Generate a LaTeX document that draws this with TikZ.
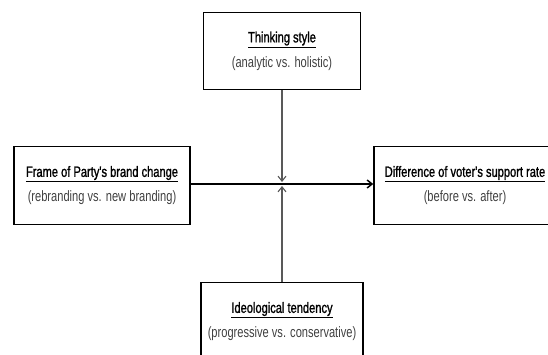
\documentclass[tikz,border=0pt]{standalone}
\usepackage{fontspec}
\setmainfont{Liberation Sans}[FakeStretch=0.74]
\newfontfamily\titlefont{Liberation Sans}[FakeStretch=0.74, FakeBold=1.2]
\usepackage{tikz}
\usetikzlibrary{arrows.meta, positioning}
\definecolor{subgray}{gray}{0.25}
\definecolor{linegray}{gray}{0.35}
\newcommand{\vartitle}[1]{{\titlefont\underline{#1}}}

\begin{document}
\begin{tikzpicture}[x=1pt, y=1pt,
    varbox/.style={draw, rectangle, line width=1.4pt, align=center, inner sep=0pt,
      font=\fontsize{15}{25}\selectfont},
    mainlink/.style={line width=1.5pt, -{Straight Barb[length=5pt, width=8pt]}},
    modlink/.style={line width=1.1pt, draw=linegray, -{Straight Barb[length=5pt, width=8pt]}}]
  \useasboundingbox (0,0) rectangle (548,354);
  \node[varbox, minimum width=157, minimum height=77]
    (T) at (282,303) {\vartitle{Thinking style}\\{\color{subgray}(analytic vs. holistic)}};
  \node[varbox, minimum width=176, minimum height=78]
    (L) at (102,168.5) {\vartitle{Frame of Party's brand change}\\{\color{subgray}(rebranding vs. new branding)}};
  \node[varbox, minimum width=182, minimum height=78]
    (R) at (465,168.5) {\vartitle{Difference of voter's support rate}\\{\color{subgray}(before vs. after)}};
  \node[varbox, minimum width=162, minimum height=78]
    (B) at (282,32.5) {\vartitle{Ideological tendency}\\{\color{subgray}(progressive vs. conservative)}};
  \coordinate (X) at (282,170);
  \draw[mainlink] (L.east |- X) -- (R.west |- X);
  \draw[modlink] (T) -- ([yshift=2pt]X);
  \draw[modlink] (B) -- ([yshift=-2pt]X);
\end{tikzpicture}
\end{document}
